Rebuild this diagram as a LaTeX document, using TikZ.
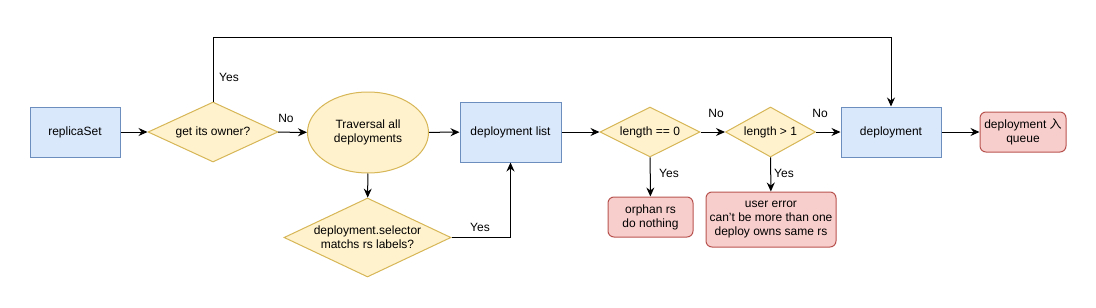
\documentclass[tikz,border=0pt]{standalone}
\usepackage{fontspec}
\setmainfont{Liberation Sans}
\newfontfamily\cjk{Noto Sans CJK SC}
\usetikzlibrary{shapes.geometric,arrows.meta}
\definecolor{bfill}{HTML}{DAE8FC}\definecolor{bdraw}{HTML}{6C8EBF}
\definecolor{yfill}{HTML}{FFF2CC}\definecolor{ydraw}{HTML}{D6B656}
\definecolor{rfill}{HTML}{F8CECC}\definecolor{rdraw}{HTML}{B85450}
\tikzset{
  every node/.style={font=\fontsize{12}{14}\selectfont, inner sep=0pt},
  bluebox/.style={draw=bdraw, fill=bfill, line width=1pt, align=center},
  ydiam/.style={diamond, draw=ydraw, fill=yfill, line width=1pt, aspect=2, align=center,
    label={[align=center, font=\fontsize{12}{14}\selectfont]center:#1}},
  redbox/.style={draw=rdraw, fill=rfill, line width=1pt, rounded corners=6pt, align=center},
  conn/.style={line width=1pt, -{Stealth[length=9pt,width=8pt,inset=3pt]}},
  lbl/.style={font=\fontsize{12}{14}\selectfont}
}
\begin{document}
\begin{tikzpicture}[x=1pt,y=-1pt]
\useasboundingbox (0,0) rectangle (1096,308);
\node[bluebox, minimum width=90pt, minimum height=50pt] (rs) at (75,132) {replicaSet};
\node[ydiam={get its owner?}, minimum width=130pt, minimum height=60pt] (own) at (213,132) {};
\node[ellipse, draw=ydraw, fill=yfill, line width=1pt, minimum width=121pt, minimum height=81pt, align=center] (trav) at (368,132.5) {Traversal all\\deployments};
\node[ydiam={deployment.selector\\matchs rs labels?}, minimum width=167pt, minimum height=79pt] (sel) at (367.5,237.5) {};
\node[bluebox, minimum width=101pt, minimum height=60pt] (dl) at (510.5,132) {deployment list};
\node[ydiam={length == 0}, minimum width=100pt, minimum height=50pt] (l0) at (650,132) {};
\node[ydiam={length > 1}, minimum width=90pt, minimum height=50pt] (l1) at (770.5,132) {};
\node[redbox, minimum width=85pt, minimum height=40pt] (orph) at (650.5,217) {orphan rs\\do nothing};
\node[redbox, minimum width=130pt, minimum height=55pt] (uerr) at (771,219.5) {user error\\can't be more than one\\deploy owns same rs};
\node[bluebox, minimum width=100pt, minimum height=50pt] (dep) at (891,132) {deployment};
\node[redbox, minimum width=86pt, minimum height=40pt] (q) at (1023,132) {deployment {\cjk 入}\\queue};
\coordinate (tl) at (213,37);
\coordinate (tr) at (891,37);
\draw[conn] (rs) -- (own);
\draw[conn] (own) -- (trav);
\draw[conn] (trav) -- (sel);
\draw[conn] (trav) -- (dl);
\draw[conn] (sel.east) -| (dl.south);
\draw[conn] (dl) -- (l0);
\draw[conn] (l0) -- (l1);
\draw[conn] (l1) -- (dep);
\draw[conn] (l0) -- (orph);
\draw[conn] (l1) -- (uerr);
\draw[conn] (dep) -- (q);
\draw[conn] (own.north) -- (tl) -- (tr) -- (dep.north);
\node[lbl] (ly) at (229,77) {Yes};
\node[lbl] (ln1) at (286,118) {No};
\node[lbl] (ly2) at (480,227) {Yes};
\node[lbl] (ln2) at (716,113) {No};
\node[lbl] (ln3) at (820,113) {No};
\node[lbl] (ly3) at (669,173) {Yes};
\node[lbl] (ly4) at (784,173) {Yes};
\end{tikzpicture}
\end{document}
